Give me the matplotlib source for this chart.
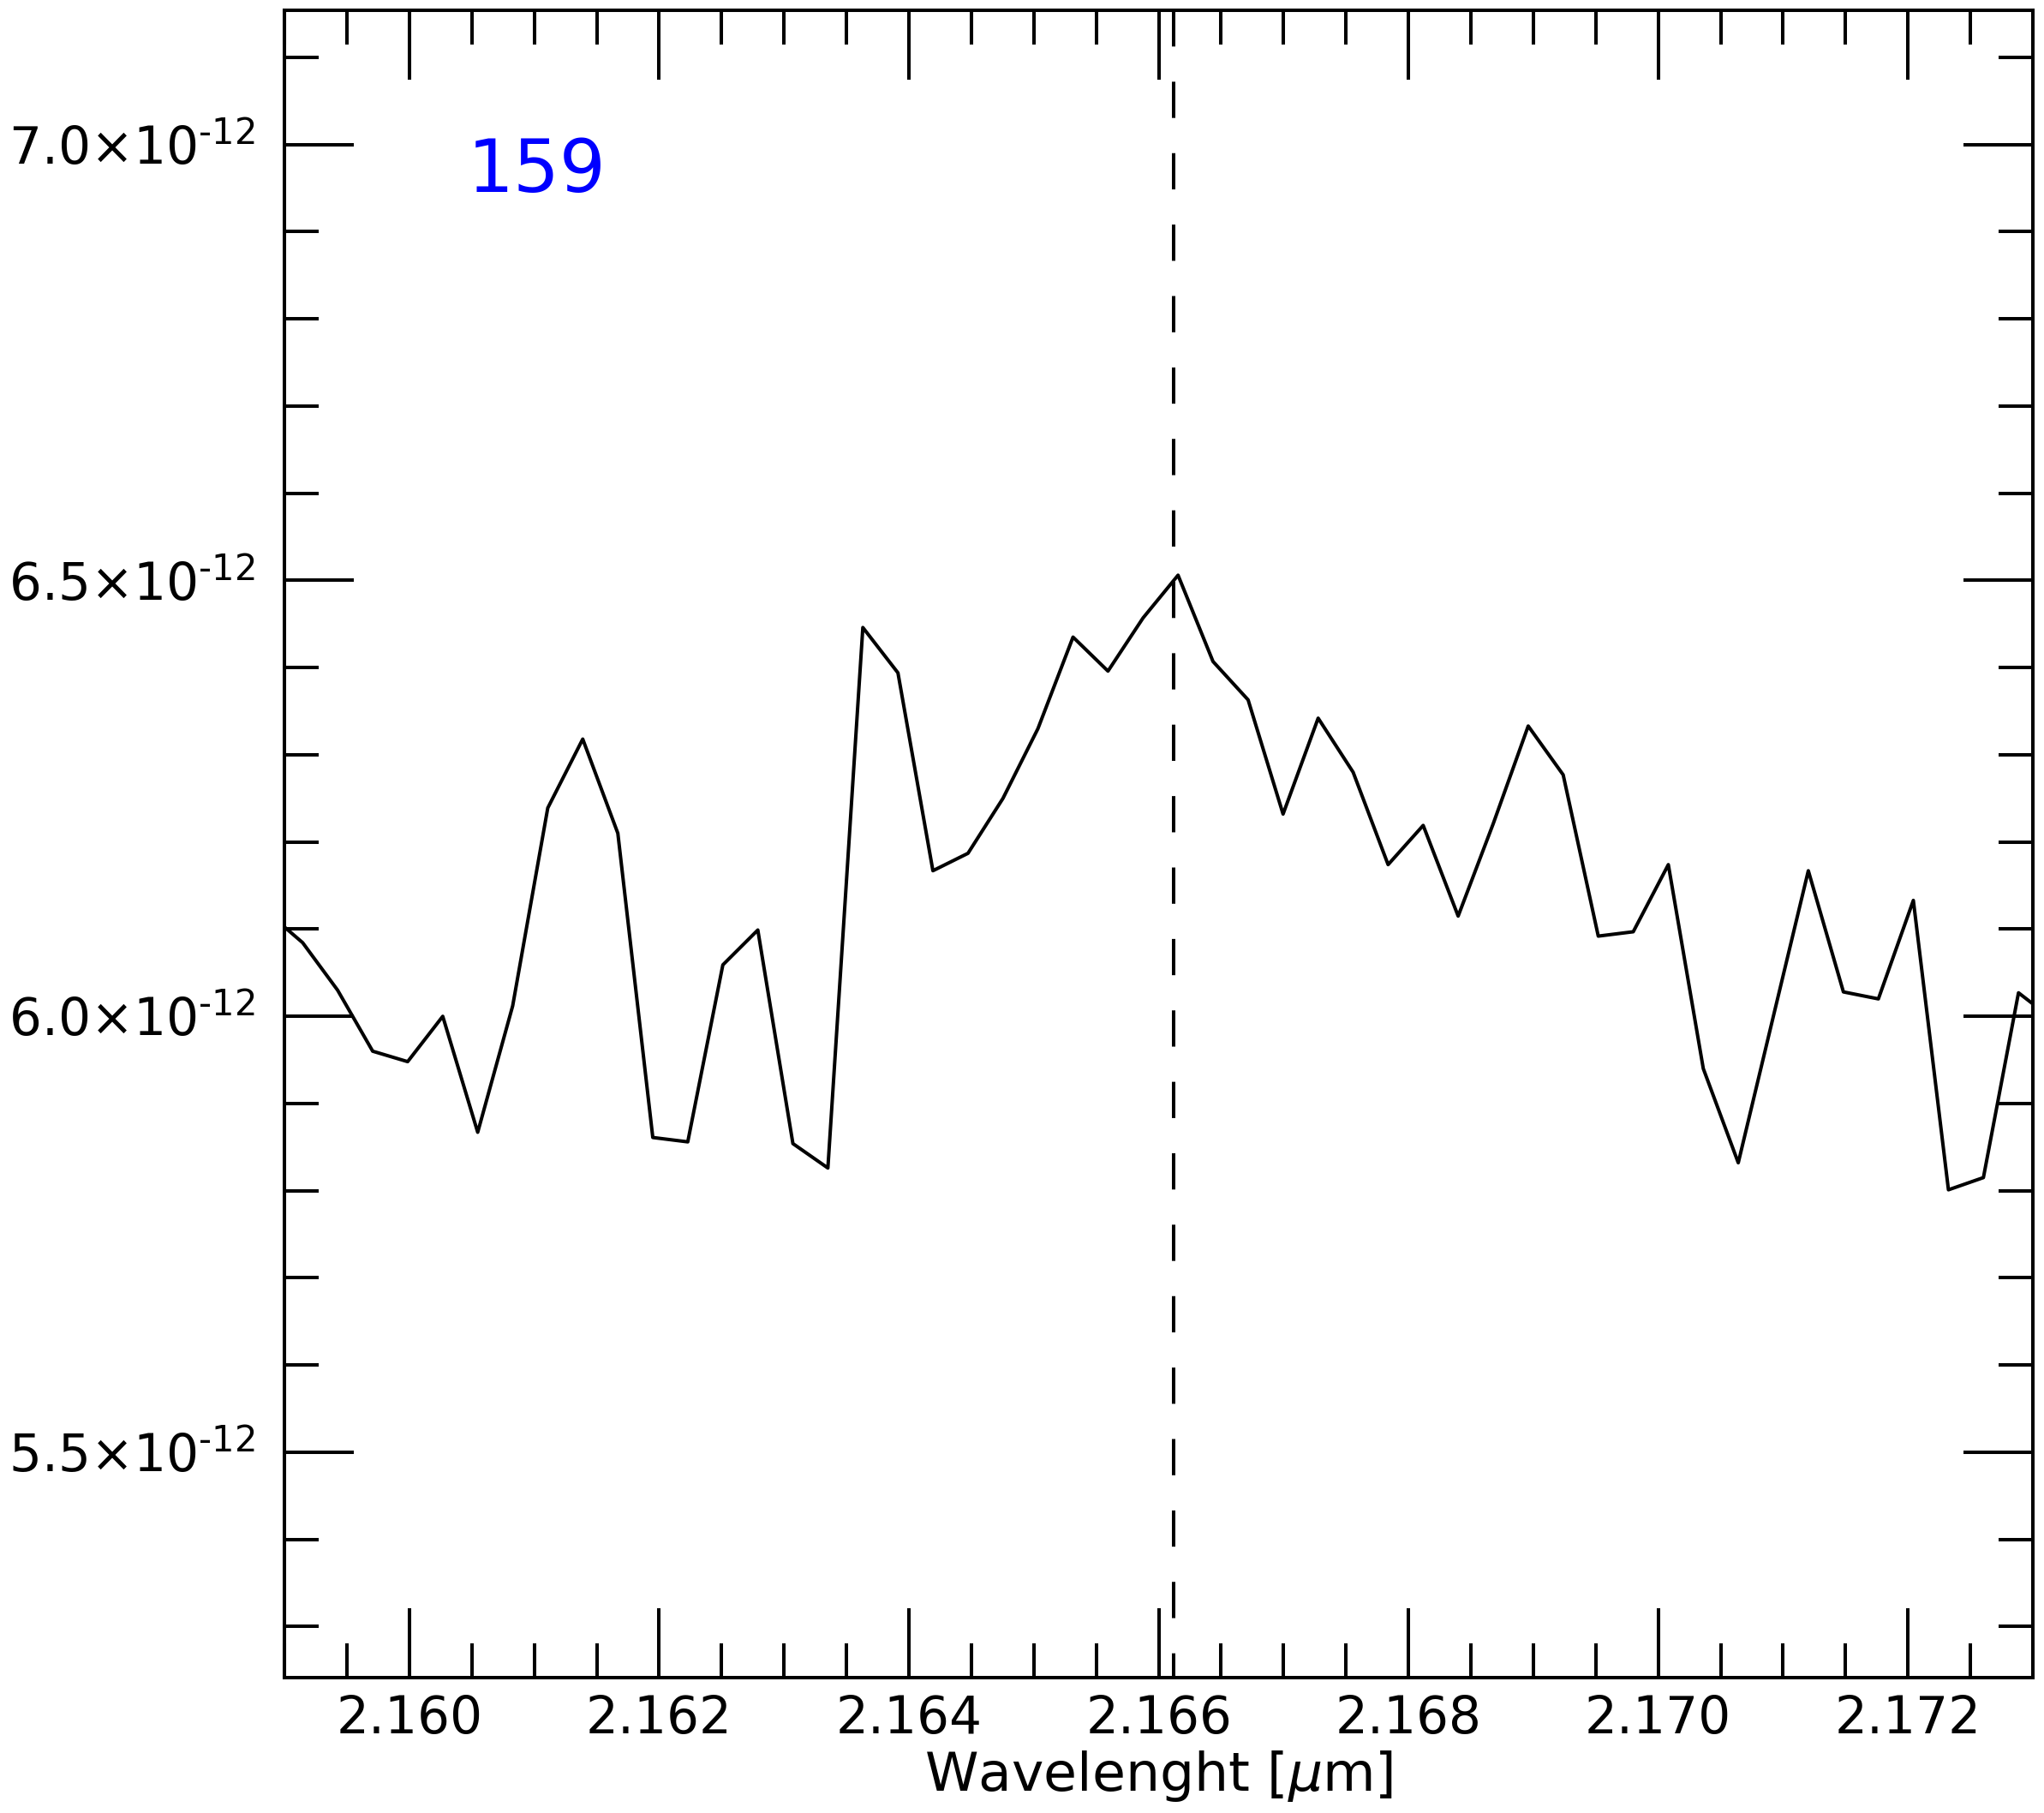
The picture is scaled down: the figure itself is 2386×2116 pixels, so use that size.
import matplotlib
matplotlib.use("Agg")
import matplotlib.pyplot as plt
from matplotlib.ticker import MultipleLocator, FuncFormatter
import numpy as np

# ---- data ----
wavelength = [2.158865, 2.159145, 2.159425, 2.159706, 2.159986, 2.160267, 2.160547,
              2.160827, 2.161108, 2.161388, 2.161669, 2.161949, 2.162229, 2.162510,
              2.162790, 2.163071, 2.163351, 2.163631, 2.163912, 2.164192, 2.164473,
              2.164753, 2.165033, 2.165314, 2.165594, 2.165875, 2.166155, 2.166435,
              2.166716, 2.166996, 2.167277, 2.167557, 2.167837, 2.168118, 2.168398,
              2.168679, 2.168959, 2.169239, 2.169520, 2.169800, 2.170081, 2.170361,
              2.170641, 2.170922, 2.171202, 2.171483, 2.171763, 2.172043, 2.172324,
              2.172604, 2.172885, 2.173165]
flux_e12 = [6.119, 6.0845, 6.030, 5.960, 5.948, 6.000, 5.867,
            6.012, 6.239, 6.318, 6.210, 5.861, 5.856, 6.059,
            6.099, 5.854, 5.826, 6.446, 6.394, 6.167, 6.187,
            6.250, 6.330, 6.435, 6.396, 6.457, 6.506, 6.407,
            6.363, 6.232, 6.342, 6.280, 6.174, 6.219, 6.115,
            6.221, 6.333, 6.277, 6.092, 6.097, 6.174, 5.940,
            5.832, 6.000, 6.167, 6.028, 6.020, 6.133, 5.801,
            5.815, 6.027, 5.996]
line_center = 2.16612
label_text = "159"
xlabel_text = r"Wavelenght [$\mu$m]"
xlim = (2.159, 2.17300)
ylim = (5.2415e-12, 7.154e-12)

flux = np.array(flux_e12) * 1e-12

fig = plt.figure(figsize=(23.86, 21.16), dpi=100)
ax = fig.add_axes([0.1392, 0.0747, 0.99455 - 0.1392, 0.99433 - 0.0747])

ax.plot(wavelength, flux, color="black", lw=2.9)
# dashed marker line drawn from top to bottom so the dash pattern starts at the top
ax.plot([line_center, line_center], [1, 0], transform=ax.get_xaxis_transform(),
        color="black", lw=2.9, linestyle=(0, (10.5, 10.2)), clip_on=True)

ax.set_xlim(*xlim)
ax.set_ylim(*ylim)

ax.xaxis.set_major_locator(MultipleLocator(0.002))
ax.xaxis.set_minor_locator(MultipleLocator(0.0005))
ax.yaxis.set_major_locator(MultipleLocator(0.5e-12))
ax.yaxis.set_minor_locator(MultipleLocator(0.1e-12))
ax.xaxis.set_major_formatter(FuncFormatter(lambda v, p: f"{v:.3f}"))


def yfmt(v, p):
    m = v / 1e-12
    return "%.1f\u00d710$^{\\text{-12}}$" % m


ax.yaxis.set_major_formatter(FuncFormatter(yfmt))

for s in ax.spines.values():
    s.set_linewidth(2.9)

ax.tick_params(which="both", direction="in", top=True, right=True, width=2.9,
               labelsize=43)
ax.tick_params(which="major", length=58)
ax.tick_params(which="minor", length=29)
ax.tick_params(axis="x", which="major", pad=14)
ax.tick_params(axis="y", which="major", pad=25)

ax.set_xlabel(xlabel_text, fontsize=45.5, labelpad=3)

ax.text(0.1045, 0.891, label_text, transform=ax.transAxes, color="blue",
        fontsize=61, ha="left", va="baseline")

fig.savefig("out.png", dpi=100)
